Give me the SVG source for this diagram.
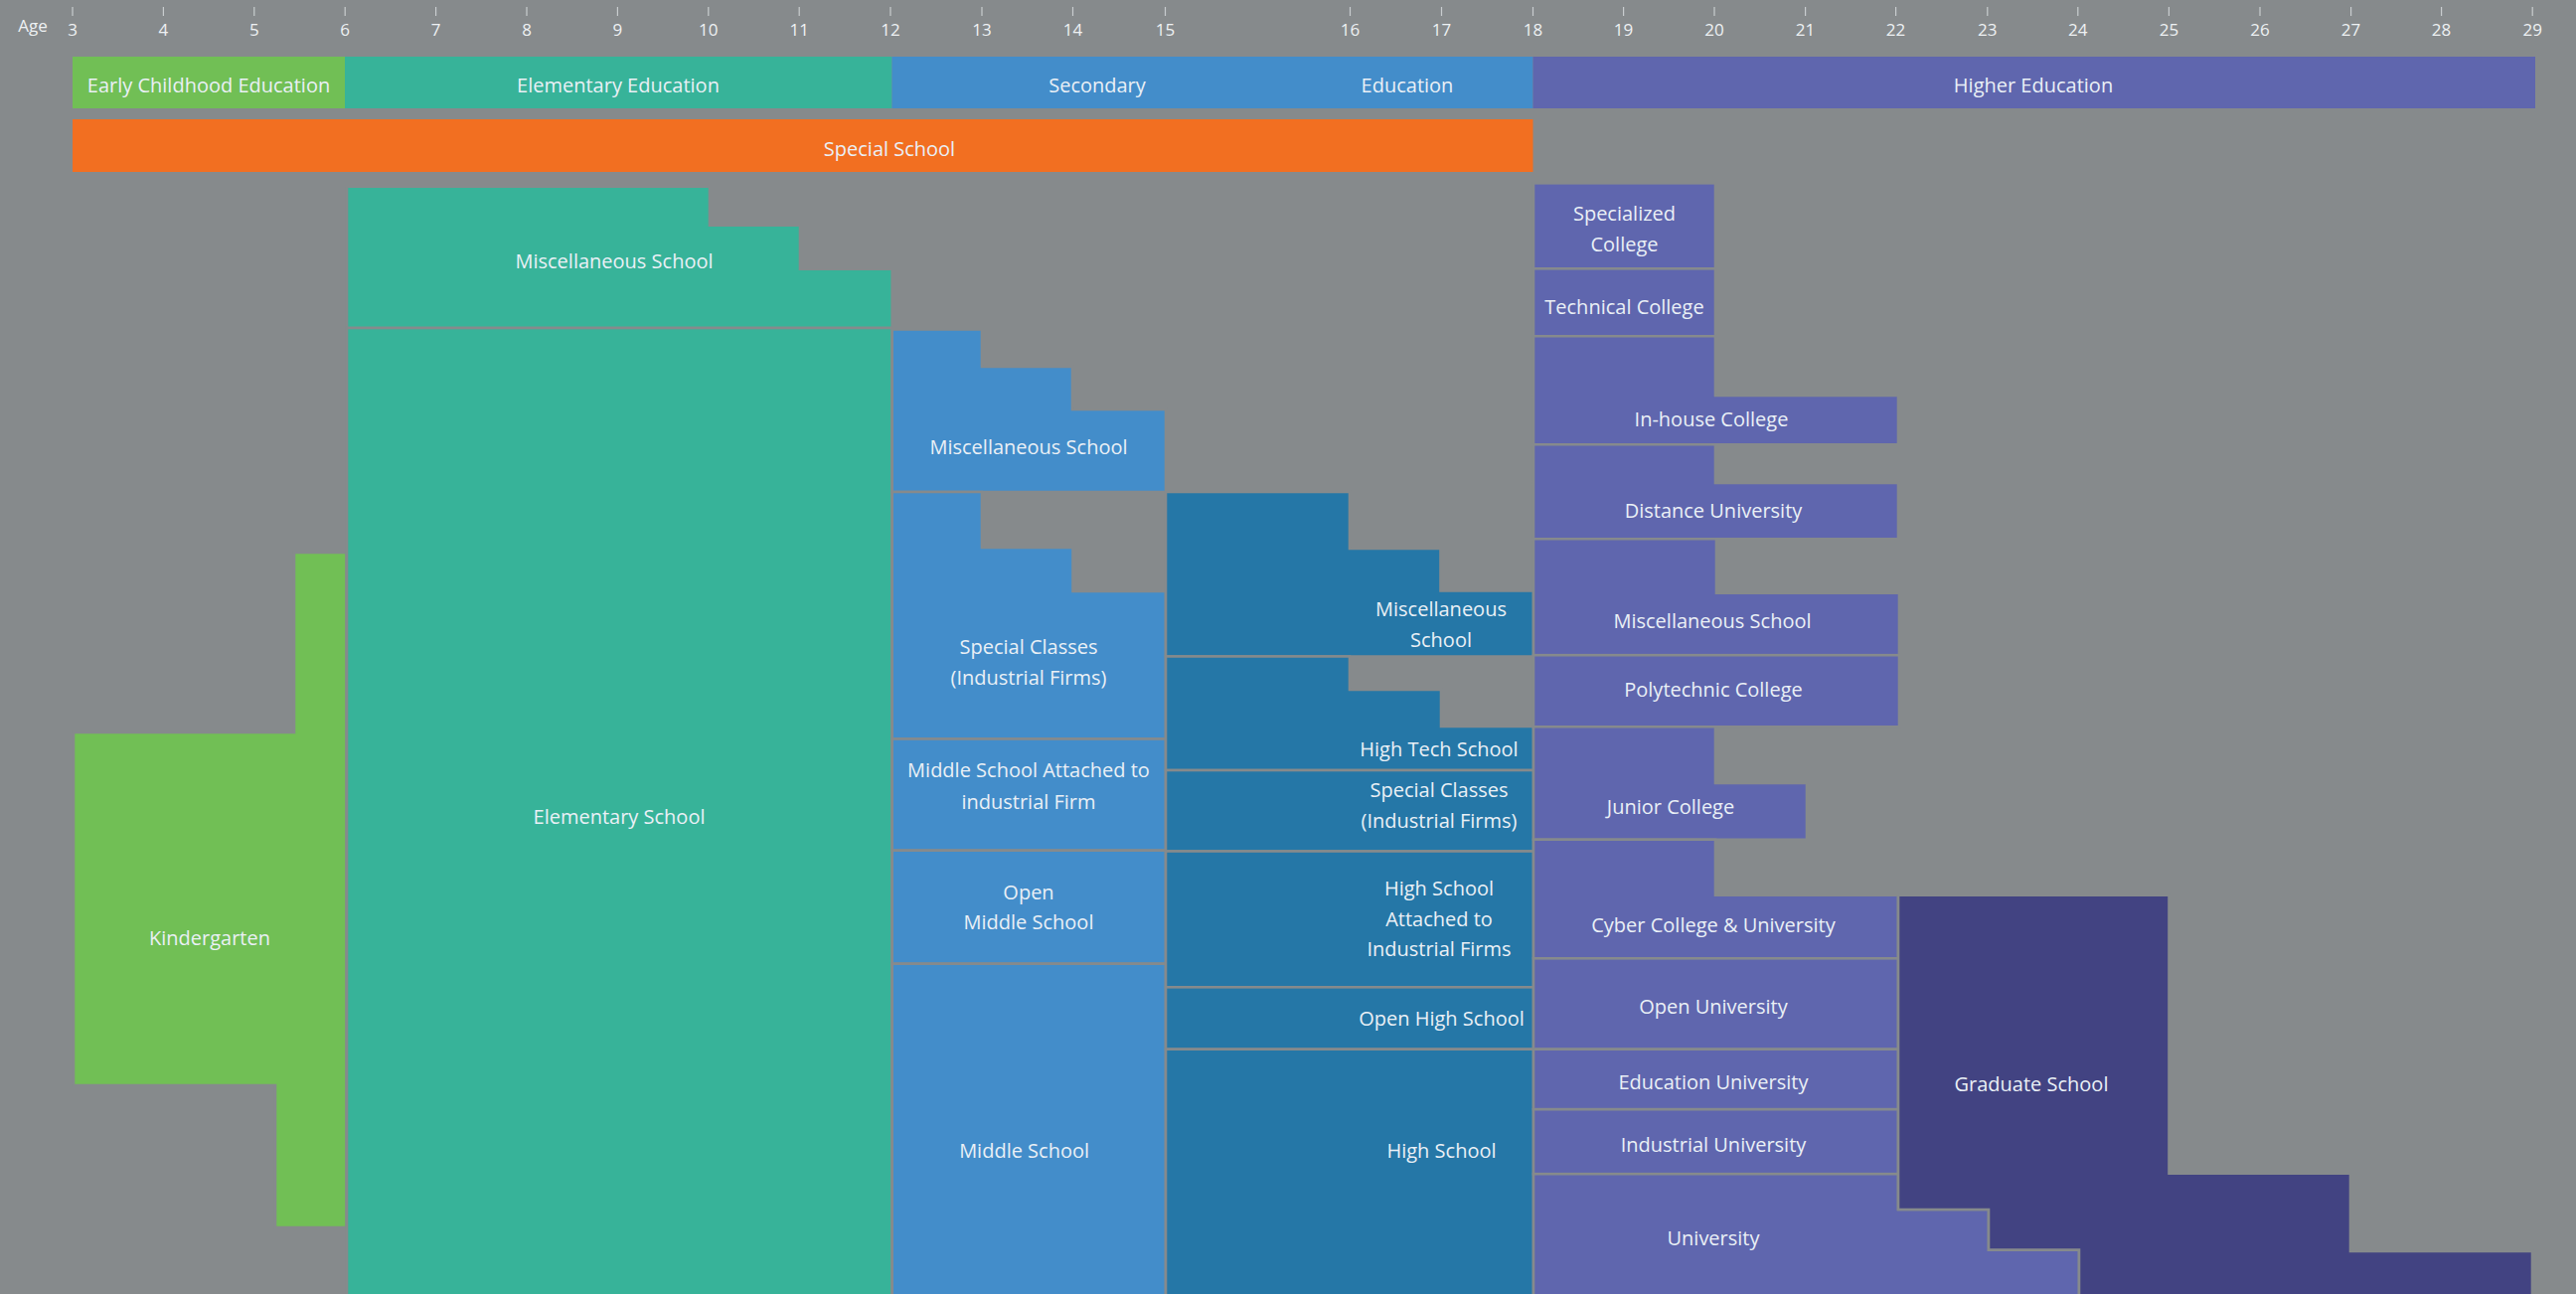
<svg xmlns="http://www.w3.org/2000/svg" width="2592" height="1302" viewBox="0 0 2592 1302">
<style>
.bg{fill:#868a8c}
.lbl{font-family:"Open Sans","Noto Sans",sans-serif;font-size:20px;fill:#eaf0f6;text-anchor:middle}
.age{font-family:"Open Sans","Noto Sans",sans-serif;font-size:17px;fill:#eef1f3;text-anchor:middle}
.tick{stroke:#c9cdcf;stroke-width:1.2}
.box{stroke:#868a8c;stroke-width:2.6}
.green{fill:#71bf55}
.teal{fill:#37b399}
.blue{fill:#438dca}
.dblue{fill:#2577a7}
.purple{fill:#5f66ae}
.dpurple{fill:#424382}
.orange{fill:#f26f21}
</style>
<rect class="bg" x="0" y="0" width="2592" height="1302"/>

<g id="axis">
<text class="age" x="33" y="32">Age</text>
<g>
<line class="tick" x1="73" y1="7" x2="73" y2="16"/><text class="age" x="73" y="36">3</text>
<line class="tick" x1="164.4" y1="7" x2="164.4" y2="16"/><text class="age" x="164.4" y="36">4</text>
<line class="tick" x1="255.8" y1="7" x2="255.8" y2="16"/><text class="age" x="255.8" y="36">5</text>
<line class="tick" x1="347.2" y1="7" x2="347.2" y2="16"/><text class="age" x="347.2" y="36">6</text>
<line class="tick" x1="438.6" y1="7" x2="438.6" y2="16"/><text class="age" x="438.6" y="36">7</text>
<line class="tick" x1="530" y1="7" x2="530" y2="16"/><text class="age" x="530" y="36">8</text>
<line class="tick" x1="621.4" y1="7" x2="621.4" y2="16"/><text class="age" x="621.4" y="36">9</text>
<line class="tick" x1="712.8" y1="7" x2="712.8" y2="16"/><text class="age" x="712.8" y="36">10</text>
<line class="tick" x1="804.2" y1="7" x2="804.2" y2="16"/><text class="age" x="804.2" y="36">11</text>
<line class="tick" x1="896" y1="7" x2="896" y2="16"/><text class="age" x="896" y="36">12</text>
<line class="tick" x1="988" y1="7" x2="988" y2="16"/><text class="age" x="988" y="36">13</text>
<line class="tick" x1="1079.5" y1="7" x2="1079.5" y2="16"/><text class="age" x="1079.5" y="36">14</text>
<line class="tick" x1="1172.5" y1="7" x2="1172.5" y2="16"/><text class="age" x="1172.5" y="36">15</text>
<line class="tick" x1="1358.5" y1="7" x2="1358.5" y2="16"/><text class="age" x="1358.5" y="36">16</text>
<line class="tick" x1="1450.5" y1="7" x2="1450.5" y2="16"/><text class="age" x="1450.5" y="36">17</text>
<line class="tick" x1="1542.5" y1="7" x2="1542.5" y2="16"/><text class="age" x="1542.5" y="36">18</text>
<line class="tick" x1="1633.6" y1="7" x2="1633.6" y2="16"/><text class="age" x="1633.6" y="36">19</text>
<line class="tick" x1="1725" y1="7" x2="1725" y2="16"/><text class="age" x="1725" y="36">20</text>
<line class="tick" x1="1816.6" y1="7" x2="1816.6" y2="16"/><text class="age" x="1816.6" y="36">21</text>
<line class="tick" x1="1907.6" y1="7" x2="1907.6" y2="16"/><text class="age" x="1907.6" y="36">22</text>
<line class="tick" x1="1999.8" y1="7" x2="1999.8" y2="16"/><text class="age" x="1999.8" y="36">23</text>
<line class="tick" x1="2090.8" y1="7" x2="2090.8" y2="16"/><text class="age" x="2090.8" y="36">24</text>
<line class="tick" x1="2182.4" y1="7" x2="2182.4" y2="16"/><text class="age" x="2182.4" y="36">25</text>
<line class="tick" x1="2274" y1="7" x2="2274" y2="16"/><text class="age" x="2274" y="36">26</text>
<line class="tick" x1="2365.6" y1="7" x2="2365.6" y2="16"/><text class="age" x="2365.6" y="36">27</text>
<line class="tick" x1="2456.6" y1="7" x2="2456.6" y2="16"/><text class="age" x="2456.6" y="36">28</text>
<line class="tick" x1="2548.2" y1="7" x2="2548.2" y2="16"/><text class="age" x="2548.2" y="36">29</text>
</g>
</g>

<g id="band-early-childhood"><rect class="green" x="73" y="57" width="274" height="52"/><text class="lbl" x="210" y="93">Early Childhood Education</text></g>
<g id="band-elementary"><rect class="teal" x="347" y="57" width="550.5" height="52"/><text class="lbl" x="622" y="93">Elementary Education</text></g>
<g id="band-secondary"><rect class="blue" x="897.5" y="57" width="645" height="52"/><text class="lbl" x="1104" y="93">Secondary</text><text class="lbl" x="1416" y="93">Education</text></g>
<g id="band-higher"><rect class="purple" x="1542.5" y="57" width="1008.5" height="52"/><text class="lbl" x="2046" y="93">Higher Education</text></g>
<g id="band-special-school"><rect class="orange" x="73" y="120" width="1469.5" height="53"/><text class="lbl" x="895" y="156.5">Special School</text></g>

<g id="kindergarten"><polygon class="box green" points="296,556 348.5,556 348.5,1235 277,1235 277,1092 74,1092 74,737 296,737"/><text class="lbl" x="211" y="951">Kindergarten</text></g>
<g id="elem-misc-school"><polygon class="box teal" points="349,187.7 714,187.7 714,226.7 805,226.7 805,270.7 897.7,270.7 897.7,330 349,330"/><text class="lbl" x="618" y="270">Miscellaneous School</text></g>
<g id="elementary-school"><rect class="box teal" x="349" y="330" width="548.7" height="990"/><text class="lbl" x="623" y="828.5">Elementary School</text></g>

<g id="mid-misc-school"><polygon class="box blue" points="897.7,331.5 988,331.5 988,369 1079,369 1079,412 1173,412 1173,495 897.7,495"/><text class="lbl" x="1035" y="456.5">Miscellaneous School</text></g>
<g id="mid-special-classes"><polygon class="box blue" points="897.7,495 988,495 988,551 1079.5,551 1079.5,595 1173,595 1173,743.5 897.7,743.5"/><text class="lbl" x="1035" y="658">Special Classes</text><text class="lbl" x="1035" y="688.5">(Industrial Firms)</text></g>
<g id="mid-attached"><rect class="box blue" x="897.7" y="743.5" width="275.3" height="112.2"/><text class="lbl" x="1035" y="782">Middle School Attached to</text><text class="lbl" x="1035" y="814">industrial Firm</text></g>
<g id="open-middle-school"><rect class="box blue" x="897.7" y="855.7" width="275.3" height="114"/><text class="lbl" x="1035" y="904.5">Open</text><text class="lbl" x="1035" y="934.5">Middle School</text></g>
<g id="middle-school"><rect class="box blue" x="897.7" y="969.7" width="275.3" height="350"/><text class="lbl" x="1030.6" y="1164.5">Middle School</text></g>

<g id="high-misc-school"><polygon class="box dblue" points="1173,495 1358,495 1358,552 1449.5,552 1449.5,594.5 1543,594.5 1543,660.5 1173,660.5"/><text class="lbl" x="1450" y="620">Miscellaneous</text><text class="lbl" x="1450" y="650.5">School</text></g>
<g id="high-tech-school"><polygon class="box dblue" points="1173,660.5 1358,660.5 1358,694 1450,694 1450,731 1543,731 1543,775 1173,775"/><text class="lbl" x="1448" y="761">High Tech School</text></g>
<g id="high-special-classes"><rect class="box dblue" x="1173" y="775" width="370" height="81.5"/><text class="lbl" x="1448" y="802">Special Classes</text><text class="lbl" x="1448" y="833">(Industrial Firms)</text></g>
<g id="high-attached"><rect class="box dblue" x="1173" y="856.5" width="370" height="136.8"/><text class="lbl" x="1448" y="901">High School</text><text class="lbl" x="1448" y="931.5">Attached to</text><text class="lbl" x="1448" y="962">Industrial Firms</text></g>
<g id="open-high-school"><rect class="box dblue" x="1173" y="993.3" width="370" height="62.4"/><text class="lbl" x="1450.5" y="1032">Open High School</text></g>
<g id="high-school"><rect class="box dblue" x="1173" y="1055.7" width="370" height="270"/><text class="lbl" x="1450.5" y="1164.5">High School</text></g>

<g id="specialized-college"><rect class="box purple" x="1543" y="184.3" width="183" height="86"/><text class="lbl" x="1634.5" y="222">Specialized</text><text class="lbl" x="1634.5" y="253">College</text></g>
<g id="technical-college"><rect class="box purple" x="1543" y="270.3" width="183" height="68"/><text class="lbl" x="1634.5" y="316">Technical College</text></g>
<g id="inhouse-college"><polygon class="box purple" points="1543,338.3 1726,338.3 1726,398 1910,398 1910,447.3 1543,447.3"/><text class="lbl" x="1722" y="428.5">In-house College</text></g>
<g id="distance-university"><polygon class="box purple" points="1543,447.3 1726,447.3 1726,486 1910,486 1910,542.2 1543,542.2"/><text class="lbl" x="1724" y="521">Distance University</text></g>
<g id="higher-misc-school"><polygon class="box purple" points="1543,542.2 1727,542.2 1727,596.7 1911,596.7 1911,659.2 1543,659.2"/><text class="lbl" x="1723" y="632">Miscellaneous School</text></g>
<g id="polytechnic-college"><rect class="box purple" x="1543" y="659.2" width="368" height="72.1"/><text class="lbl" x="1724" y="701">Polytechnic College</text></g>
<g id="junior-college"><polygon class="box purple" points="1543,731.3 1726,731.3 1726,788 1818,788 1818,844.8 1543,844.8"/><text class="lbl" x="1681" y="818.5">Junior College</text></g>
<g id="cyber-university"><polygon class="box purple" points="1543,844.8 1726,844.8 1726,900.8 1910,900.8 1910,964.3 1543,964.3"/><text class="lbl" x="1724" y="937.5">Cyber College &amp; University</text></g>
<g id="open-university"><rect class="box purple" x="1543" y="964.3" width="367" height="91.4"/><text class="lbl" x="1724" y="1020">Open University</text></g>
<g id="education-university"><rect class="box purple" x="1543" y="1055.7" width="367" height="60.5"/><text class="lbl" x="1724" y="1096">Education University</text></g>
<g id="industrial-university"><rect class="box purple" x="1543" y="1116.2" width="367" height="65"/><text class="lbl" x="1724" y="1159">Industrial University</text></g>
<g id="university"><polygon class="box purple" points="1543,1181.2 1910,1181.2 1910,1217 2001,1217 2001,1257.6 2092,1257.6 2092,1320 1543,1320"/><text class="lbl" x="1724" y="1253">University</text></g>
<g id="graduate-school"><polygon class="box dpurple" points="1910,900.8 2182.5,900.8 2182.5,1180.8 2365,1180.8 2365,1259 2548,1259 2548,1320 2092,1320 2092,1257.6 2001,1257.6 2001,1217 1910,1217"/><text class="lbl" x="2044" y="1098">Graduate School</text></g>

<g id="connectors"></g>
</svg>
